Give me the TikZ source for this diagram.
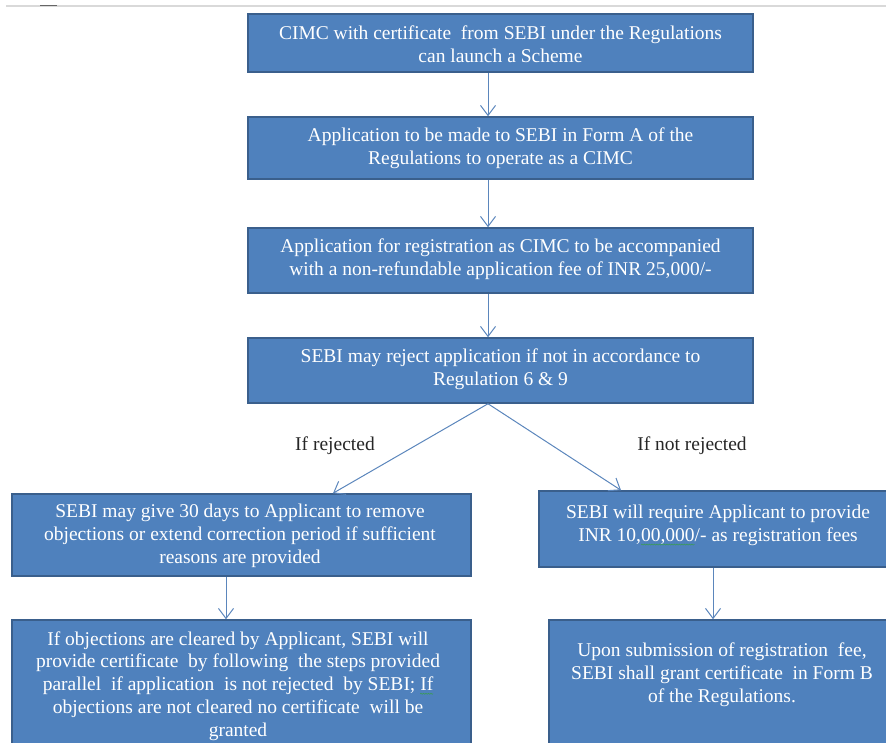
\documentclass[tikz,border=0pt]{standalone}
\usepackage{fontspec}
\setmainfont{Liberation Serif}
\usetikzlibrary{arrows.meta,decorations.pathmorphing}
\definecolor{boxfill}{HTML}{4F81BD}
\definecolor{boxdraw}{HTML}{3A5F8C}
\definecolor{arrowc}{HTML}{5B86BC}
\definecolor{spellg}{HTML}{3C9A5A}
\newsavebox{\smbox}
\newcommand{\spellmark}[1]{\sbox{\smbox}{#1}\rlap{#1}\tikz[baseline=0pt,x=1pt,y=1pt]{\useasboundingbox (0,0) rectangle (\wd\smbox,0);\draw[spellg,line width=0.6pt,decorate,decoration={snake,amplitude=0.5pt,segment length=2.5pt}] (0,-3) -- (\wd\smbox,-3);}}
\begin{document}
\begin{tikzpicture}[x=1pt,y=-1pt,
  boxc/.style={draw=boxdraw, fill=boxfill, line width=1.5pt, inner sep=0pt},
  txt/.style={text=white, align=center, inner sep=0pt, font=\fontsize{19.5}{22.8}\selectfont},
  lbl/.style={text=black!85, align=center, inner sep=0pt, font=\fontsize{19.5}{22.8}\selectfont},
  conn/.style={draw=arrowc, line width=1pt, -{Straight Barb[length=10pt,width=15pt,line width=1pt]}}]
\useasboundingbox (0,0) rectangle (886,742);
\clip (0,0) rectangle (886,742);
% top rule
\draw[line width=2pt, black!15] (6,5.5) -- (886,5.5);
\draw[line width=1.6pt, black!60] (40,5.4) -- (57,5.4);
% boxes
\node[boxc, minimum width=505pt, minimum height=58pt] (b1) at (500.5,43) {};
\node[boxc, minimum width=505pt, minimum height=62pt] (b2) at (500.5,148) {};
\node[boxc, minimum width=505pt, minimum height=65pt] (b3) at (500.5,260.5) {};
\node[boxc, minimum width=505pt, minimum height=65pt] (b4) at (500.5,370.5) {};
\node[boxc, minimum width=459pt, minimum height=82pt] (b5) at (241.5,535) {};
\node[boxc, minimum width=371pt, minimum height=76pt] (b6) at (724.5,529) {};
\node[boxc, minimum width=459pt, minimum height=140pt] (b7) at (241.5,690) {};
\node[boxc, minimum width=361pt, minimum height=140pt] (b8) at (729.5,690) {};
% texts
\node[txt] (t1) at (500.5,44) {CIMC with certificate\ \ from SEBI under the Regulations\\can launch a Scheme};
\node[txt] (t2) at (500.5,148) {Application to be made to SEBI in Form A of the\\Regulations to operate as a CIMC};
\node[txt] (t3) at (500.5,259) {Application for registration as CIMC to be accompanied\\with a non-refundable application fee of INR 25,000/-};
\node[txt] (t4) at (500.5,369.5) {SEBI may reject application if not in accordance to\\Regulation 6 \& 9};
\node[txt] (t5) at (240,536) {SEBI may give 30 days to Applicant to remove\\objections or extend correction period if sufficient\\reasons are provided};
\node[txt] (t6) at (718,525.5) {SEBI will require Applicant to provide\\INR 10,\spellmark{00,000}/- as registration fees};
\node[txt] (t7) at (238,686) {If objections are cleared by Applicant, SEBI will\\provide certificate\ \ by following\ \ the steps provided\\parallel\ \ if application\ \ is not rejected\ \ by SEBI;\ \spellmark{If}\\objections are not cleared no certificate\ \ will be\\granted};
\node[txt] (t8) at (722,675) {Upon submission of registration\ \ fee,\\SEBI shall grant certificate\ \ in Form B\\of the Regulations.};
% labels
\node[lbl] (l1) at (335,446) {If rejected};
\node[lbl] (l2) at (692,446) {If not rejected};
% connectors
\coordinate (ax) at (488,0);
\coordinate (lx) at (333,0);
\coordinate (rx) at (621,0);
\coordinate (lx2) at (226,0);
\coordinate (rx2) at (713,0);
\draw[conn] (b1.south -| ax) -- (b2.north -| ax);
\draw[conn] (b2.south -| ax) -- (b3.north -| ax);
\draw[conn] (b3.south -| ax) -- (b4.north -| ax);
\draw[conn] (b4.south -| ax) -- (b5.north -| lx);
\draw[conn] (b4.south -| ax) -- (b6.north -| rx);
\draw[conn] (b5.south -| lx2) -- (b7.north -| lx2);
\draw[conn] (b6.south -| rx2) -- (b8.north -| rx2);
\end{tikzpicture}
\end{document}
